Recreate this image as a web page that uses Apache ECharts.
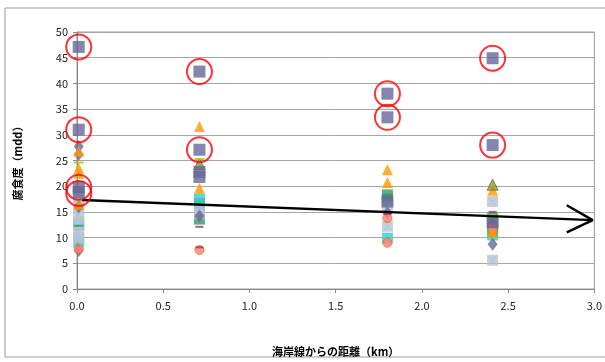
<!DOCTYPE html>
<html><head><meta charset="utf-8">
<script src="https://cdn.jsdelivr.net/npm/echarts@6/dist/echarts.min.js"></script>
<style>html,body{margin:0;padding:0;background:#fff}#c{width:605px;height:362px}</style>
</head><body><div id="c"></div>
<script>
const xTicks = ['0.0','0.5','1.0','1.5','2.0','2.5','3.0'];
const navySquares = [[0.01,47.1],[0.01,31.0],[0.01,19.8],[0.01,18.8],[0.71,42.3],[0.71,27.1],[0.71,22.8],[0.71,21.8],[1.80,38.0],[1.80,33.4],[1.80,17.0],[2.41,44.9],[2.41,28.0],[2.41,13.0]];
const diamonds = [[0.01,27.7],[0.01,26.2],[0.01,16.0],[0.01,7.5],[0.71,14.2],[1.80,14.8],[2.41,12.5],[2.41,8.7]];
const orangeTriangles = [[0.01,26.8],[0.01,23.5],[0.01,22.5],[0.01,16.5],[0.71,31.6],[0.71,19.6],[1.80,23.2],[1.80,20.7],[2.41,19.2],[2.41,11.0]];
const oliveTriangles = [[0.71,24.3],[2.41,20.3]];
const tealSquares = [[0.01,12.4],[0.01,9.2],[0.71,17.5],[1.80,9.9],[2.41,10.5]];
const greenSquares = [[0.71,16.6],[0.71,13.6],[1.80,18.3],[1.80,17.5],[2.41,13.8],[2.41,12.0],[2.41,11.2]];
const graySquares = [[0.01,17.9],[0.01,16.3],[0.01,14.5],[0.01,13.0],[0.01,11.0],[0.01,10.0],[0.71,15.6],[0.71,14.6],[1.80,16.0],[1.80,12.2],[2.41,17.0],[2.41,5.6]];
const salmonCircles = [[0.01,7.8],[0.71,7.6],[1.80,13.8],[1.80,9.0],[2.41,12.0],[2.41,11.5]];
const purpleDashes = [[0.71,12.1],[0.71,8.1],[1.80,14.6],[2.41,15.0]];
const limeDashes = [[0.01,24.6],[0.71,25.3],[2.41,14.4]];
const greenDashes = [[0.01,12.3]];
const circled = [[0.01,47.1],[0.01,31.0],[0.01,19.8],[0.01,18.6],[0.71,42.3],[0.71,27.1],[1.80,38.0],[1.80,33.4],[2.41,44.9],[2.41,28.0]];
const trendLine = [[0.03,17.3],[2.99,13.4]];
const arrowHead = [[2.84,16.3],[2.99,13.4],[2.84,11.0]];

const F = '"Noto Sans CJK JP", "Noto Sans", sans-serif';
const X_PATH = 'path://M0,0.12L0.12,0L0.5,0.38L0.88,0L1,0.12L0.62,0.5L1,0.88L0.88,1L0.5,0.62L0.12,1L0,0.88L0.38,0.5Z';
function sc(data, symbol, size, color, extra) {
  return Object.assign({type:'scatter', data, symbol, symbolSize:size, itemStyle:{color}, silent:true, z:3}, extra||{});
}
const chart = echarts.init(document.getElementById('c'), null, {renderer:'canvas'});
chart.setOption({
  animation:false,
  backgroundColor:'#fff',
  graphic:[{type:'rect', shape:{x:5,y:8,width:620,height:349}, style:{fill:'none', stroke:'#999', lineWidth:1}, z:-1}],
  grid:{left:77, right:5, top:32, bottom:70, show:true, borderColor:'#999', borderWidth:1},
  xAxis:{type:'value', min:0, max:3, interval:0.5,
    name:'海岸線からの距離（km）', nameLocation:'middle', nameGap:57,
    nameTextStyle:{fontFamily:F, fontSize:11, fontWeight:'bold', color:'#000'},
    axisLine:{lineStyle:{color:'#888'}}, axisTick:{show:true, length:4, inside:false, lineStyle:{color:'#888'}},
    splitLine:{show:false},
    axisLabel:{fontFamily:F, fontSize:11, color:'#222', margin:11, formatter:(v)=>xTicks[Math.round(v/0.5)]}},
  yAxis:{type:'value', min:0, max:50, interval:5,
    name:'腐食度（mdd）', nameLocation:'middle', nameGap:54, nameRotate:90,
    nameTextStyle:{fontFamily:F, fontSize:11, fontWeight:'bold', color:'#000'},
    axisLine:{show:true, lineStyle:{color:'#888'}}, axisTick:{show:true, length:4, lineStyle:{color:'#888'}},
    splitLine:{show:true, lineStyle:{color:'#a6a6a6', width:1}},
    axisLabel:{fontFamily:F, fontSize:11, color:'#222', margin:9}},
  series:[
    sc(greenSquares,'rect',11,'#339966'),
    sc(tealSquares,'rect',11,'#33CCCC'),
    sc(graySquares,'rect',11,'#C0C0C0'),
    sc(graySquares,X_PATH,8,'#99CCFF',{z:4}),
    sc(diamonds,'diamond',[10,13],'#666699',{z:4}),
    sc(salmonCircles,'circle',9,'#FF8080',{itemStyle:{color:'#FF8080', borderColor:'#FF6600', borderWidth:1}, z:4}),
    sc(orangeTriangles,'triangle',11,'#FF9900',{z:5}),
    sc(oliveTriangles,'triangle',11,'#999933',{itemStyle:{color:'#999933', borderColor:'#666633', borderWidth:1}, z:5}),
    sc(purpleDashes,'rect',[8,2],'#993366',{z:5}),
    sc(limeDashes,'rect',[10,2],'#99CC00',{z:5}),
    sc(greenDashes,'rect',[10,2],'#339966',{z:5}),
    sc(navySquares,'rect',12,'#666699',{z:6}),
    {type:'line', data:trendLine, symbol:'none', lineStyle:{color:'#000', width:2.5}, silent:true, z:7},
    {type:'line', data:arrowHead, symbol:'none', lineStyle:{color:'#000', width:2.5}, silent:true, z:7},
    sc(circled,'circle',25,'transparent',{itemStyle:{color:'rgba(0,0,0,0)', borderColor:'#FF0000', borderWidth:2}, z:8})
  ]
});
</script></body></html>
